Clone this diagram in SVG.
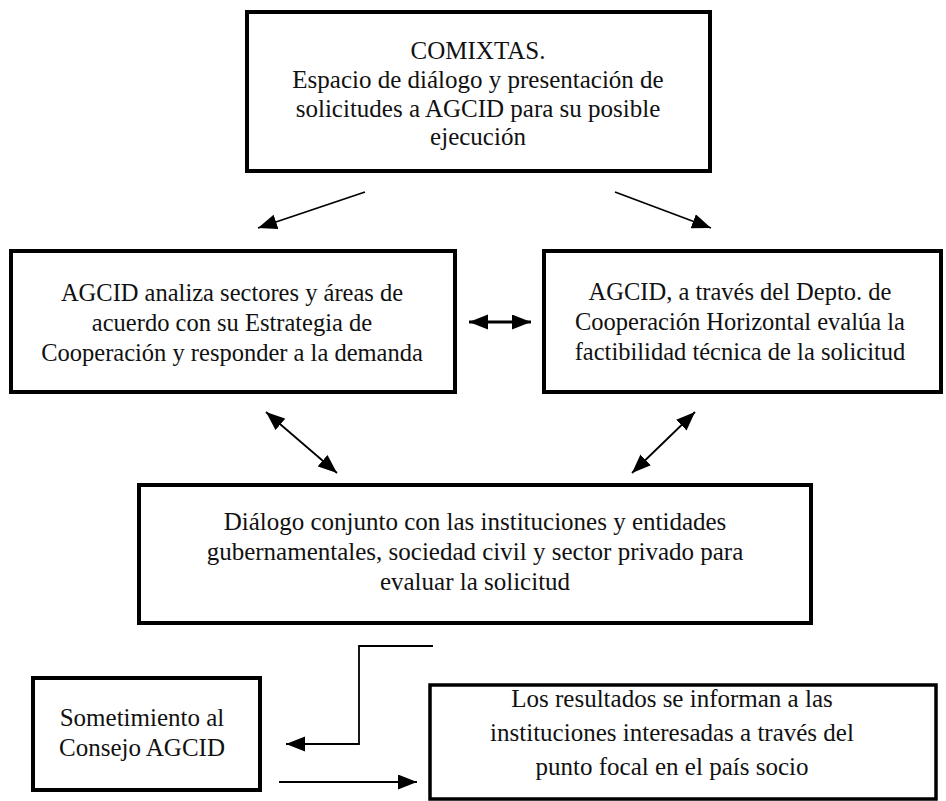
<svg xmlns="http://www.w3.org/2000/svg" width="946" height="801" viewBox="0 0 946 801">
<style>
.box{fill:#fff;stroke:#000;stroke-width:4}
.t{font-family:"Liberation Serif","Times New Roman",serif;font-size:24.5px;fill:#111;text-anchor:middle}
.t25{font-size:25px}
.c{fill:none;stroke:#000;stroke-width:1.8}
.thick{stroke-width:3}
</style>
<defs>
<marker id="ah" markerUnits="userSpaceOnUse" markerWidth="20" markerHeight="16" refX="19" refY="7.5" orient="auto-start-reverse">
<path d="M0,0 L19,7.5 L0,15 z" fill="#000"/>
</marker>
</defs>
<rect width="946" height="801" fill="#fff"/>
<g id="comixtas">
<rect class="box" x="247" y="12" width="463" height="159"/>
<text class="t t25" x="478" y="59">COMIXTAS.</text>
<text class="t t25" x="478" y="88">Espacio de diálogo y presentación de</text>
<text class="t t25" x="478" y="117">solicitudes a AGCID para su posible</text>
<text class="t t25" x="478" y="145">ejecución</text>
</g>
<g id="analiza">
<rect class="box" x="11" y="251" width="444" height="141"/>
<text class="t" x="232" y="301">AGCID analiza sectores y áreas de</text>
<text class="t" x="232" y="331">acuerdo con su Estrategia de</text>
<text class="t" x="232" y="361">Cooperación y responder a la demanda</text>
</g>
<g id="depto">
<rect class="box" x="544" y="251" width="397" height="141"/>
<text class="t" x="740" y="300">AGCID, a través del Depto. de</text>
<text class="t" x="740" y="330">Cooperación Horizontal evalúa la</text>
<text class="t" x="740" y="360">factibilidad técnica de la solicitud</text>
</g>
<g id="dialogo">
<rect class="box" x="139" y="485" width="672" height="138"/>
<text class="t t25" x="475" y="530">Diálogo conjunto con las instituciones y entidades</text>
<text class="t t25" x="475" y="560">gubernamentales, sociedad civil y sector privado para</text>
<text class="t t25" x="475" y="590">evaluar la solicitud</text>
</g>
<g id="consejo">
<rect class="box" x="33" y="678" width="227" height="112"/>
<text class="t t25" x="142" y="726">Sometimiento al</text>
<text class="t t25" x="142" y="756">Consejo AGCID</text>
</g>
<g id="resultados">
<rect class="box" x="430" y="685" width="506" height="114" style="stroke-width:3.5"/>
<text class="t t25" x="672" y="707">Los resultados se informan a las</text>
<text class="t t25" x="672" y="741">instituciones interesadas a través del</text>
<text class="t t25" x="672" y="775">punto focal en el país socio</text>
</g>
<g id="connectors">
<line class="c" x1="365" y1="192" x2="258" y2="228" marker-end="url(#ah)"/>
<line class="c" x1="615" y1="192" x2="711" y2="228" marker-end="url(#ah)"/>
<line class="c thick" x1="469" y1="322" x2="531" y2="322" marker-start="url(#ah)" marker-end="url(#ah)"/>
<line class="c" x1="266" y1="412" x2="337" y2="473" marker-start="url(#ah)" marker-end="url(#ah)"/>
<line class="c" x1="695" y1="412" x2="632" y2="473" marker-start="url(#ah)" marker-end="url(#ah)"/>
<polyline class="c" points="433,646 359,646 359,744 286,744" marker-end="url(#ah)"/>
<line class="c" x1="279" y1="782" x2="417" y2="782" marker-end="url(#ah)"/>
</g>
</svg>
